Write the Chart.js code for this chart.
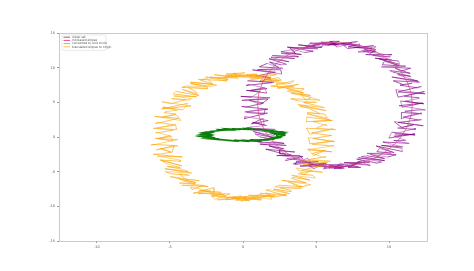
<!DOCTYPE html>
<html><head><meta charset="utf-8">
<script src="https://cdn.jsdelivr.net/npm/chart.js@4/dist/chart.umd.min.js"></script>
<style>html,body{margin:0;padding:0;background:#fff}#c{display:block}</style>
</head><body>
<canvas id="c" width="474" height="271"></canvas>
<script>
const seriesLabels = ["initial set", "increased ellipse", "converted to unit circle", "translated ellipse to origin"];
const xTicks = [-10, -5, 0, 5, 10];
const yTicks = [-15, -10, -5, 0, 5, 10, 15];

const initialSet = [
[12.30,4.90],[10.90,4.30],[10.79,5.19],[12.39,4.79],[11.08,5.18],[12.08,5.58],[12.05,5.66],[11.05,5.86],[12.42,6.55],[10.62,5.75],[10.47,6.83],[12.47,6.23],
[10.62,6.50],[12.22,7.30],[11.95,7.08],[10.75,7.48],[11.58,7.74],[10.98,7.54],[10.29,8.11],[12.09,7.91],[10.19,8.66],[11.99,8.06],[11.39,8.41],[10.59,9.01],
[11.48,8.75],[10.28,9.35],[10.05,9.58],[11.45,9.18],[10.42,9.90],[10.82,9.50],[11.48,9.92],[9.48,10.12],[11.14,10.22],[9.54,10.42],[9.68,10.91],[10.68,10.31],
[9.32,11.29],[10.72,10.49],[10.65,10.96],[9.05,11.36],[10.17,11.12],[9.17,11.72],[8.89,11.76],[10.09,11.56],[8.40,11.89],[10.20,11.89],[10.00,11.81],[8.20,12.41],
[9.10,12.61],[8.70,12.01],[8.29,12.69],[9.09,12.29],[7.88,12.27],[9.08,13.07],[8.97,12.72],[7.57,12.92],[8.95,13.16],[7.15,12.76],[6.82,13.39],[8.82,12.79],
[7.20,13.00],[8.00,13.40],[7.97,13.09],[6.77,13.49],[7.84,13.77],[6.44,12.97],[6.10,13.52],[7.70,13.32],[5.87,13.37],[7.47,13.57],[6.94,13.19],[5.94,13.79],
[6.60,13.80],[5.80,13.20],[5.36,13.69],[6.56,13.29],[5.43,13.27],[6.03,13.67],[6.40,13.32],[4.60,13.52],[6.16,13.77],[4.36,12.97],[4.63,13.59],[5.43,12.99],
[4.10,12.80],[5.50,13.60],[5.38,12.89],[3.78,13.29],[4.95,13.06],[3.75,12.86],[3.13,12.92],[5.13,12.72],[3.02,12.97],[4.82,12.37],[4.21,12.19],[3.21,12.79],
[3.60,12.01],[3.40,12.61],[2.60,12.31],[4.00,11.91],[2.60,12.09],[3.60,11.69],[3.81,11.56],[2.01,11.76],[3.53,11.32],[1.93,11.52],[1.95,11.46],[3.15,10.86],
[1.78,11.29],[2.98,10.49],[2.62,10.41],[1.82,10.81],[2.46,10.02],[1.66,10.62],[1.12,10.12],[2.72,9.92],[0.98,9.70],[2.58,9.70],[2.65,9.08],[0.65,9.68],
[2.22,9.35],[0.82,8.75],[0.91,8.91],[1.91,8.51],[1.11,7.96],[1.51,8.76],[2.11,7.91],[0.31,8.11],[2.02,7.84],[0.22,7.44],[0.45,7.58],[1.65,6.98],
[0.48,6.70],[1.48,7.10],[1.63,6.33],[0.23,6.73],[1.18,6.55],[0.58,5.75],[-0.15,5.86],[1.85,5.66],[-0.08,5.28],[1.72,5.48],[1.21,4.69],[0.41,5.29],
[1.40,4.90],[0.20,4.30],[-0.09,4.41],[1.71,4.01],[0.12,3.62],[1.52,4.02],[1.45,3.34],[0.25,3.54],[1.68,3.45],[0.08,2.65],[0.13,2.97],[1.73,2.37],
[0.58,1.90],[1.38,2.70],[1.45,1.72],[0.65,2.12],[1.62,1.66],[0.62,1.46],[0.21,1.29],[2.21,1.09],[0.41,1.14],[2.21,0.54],[2.11,0.19],[0.71,0.79],
[2.22,-0.15],[0.82,0.45],[1.15,0.02],[2.15,-0.38],[1.48,-0.30],[2.08,-0.70],[2.82,-0.92],[1.02,-0.72],[2.96,-1.22],[1.16,-1.02],[1.62,-1.11],[2.82,-1.71],
[1.78,-1.29],[2.98,-2.09],[3.55,-2.16],[1.55,-1.76],[2.93,-2.52],[2.53,-1.92],[2.51,-2.36],[3.31,-2.56],[2.30,-2.69],[3.90,-2.69],[4.10,-3.21],[2.50,-2.61],
[4.10,-2.81],[2.90,-3.41],[3.01,-3.09],[4.41,-3.49],[3.42,-3.87],[4.42,-3.07],[4.63,-3.72],[3.63,-3.52],[5.15,-3.56],[3.55,-3.96],[3.68,-3.59],[5.48,-4.19],
[3.90,-4.20],[5.70,-3.80],[5.63,-4.29],[4.43,-3.89],[5.66,-3.77],[4.86,-4.57],[4.50,-4.12],[6.50,-4.32],[5.53,-4.37],[5.93,-4.17],[6.76,-4.59],[5.16,-3.99],
[6.90,-4.00],[5.50,-4.60],[5.94,-4.09],[6.94,-4.49],[5.87,-4.47],[7.47,-4.07],[7.90,-4.32],[5.90,-4.12],[8.04,-3.77],[6.24,-4.57],[6.67,-3.79],[8.07,-4.39],
[7.20,-4.40],[8.00,-3.60],[8.72,-4.09],[6.92,-3.69],[8.35,-3.66],[7.75,-3.86],[7.87,-3.52],[8.67,-3.72],[7.78,-3.17],[9.18,-3.77],[9.49,-3.59],[7.89,-2.99],
[9.70,-3.41],[8.10,-2.81],[8.50,-2.71],[9.70,-3.11],[8.70,-2.49],[9.90,-2.89],[10.49,-2.56],[8.49,-2.36],[10.17,-2.32],[9.17,-2.12],[9.35,-1.66],[10.35,-2.26],
[9.12,-1.29],[10.92,-2.09],[10.88,-1.61],[9.48,-1.21],[10.94,-1.42],[9.74,-0.82],[9.58,-0.72],[11.38,-0.92],[10.32,-0.50],[10.92,-0.50],[11.15,-0.48],[10.35,0.12],
[11.78,0.45],[9.98,-0.15],[10.19,0.69],[11.79,0.29],[10.39,0.44],[11.79,1.24],[11.79,1.09],[10.59,1.29],[11.68,1.76],[10.88,1.36],[10.35,2.22],[12.35,1.62],
[10.62,2.10],[12.22,2.50],[11.97,2.47],[10.97,2.87],[12.22,3.45],[10.82,2.65],[10.85,3.54],[12.25,3.34],[11.08,3.72],[12.08,3.92],[12.49,3.91],[10.69,4.51],
[12.30,4.90]
];

const increasedEllipse = [
[11.60,4.70],[11.52,6.26],[11.28,7.78],[10.89,9.20],[10.36,10.49],[9.71,11.59],[8.95,12.49],[8.11,13.16],[7.22,13.56],[6.30,13.70],
[5.38,13.56],[4.49,13.16],[3.65,12.49],[2.89,11.59],[2.24,10.49],[1.71,9.20],[1.32,7.78],[1.08,6.26],[1.00,4.70],
[1.08,3.14],[1.32,1.62],[1.71,0.20],[2.24,-1.09],[2.89,-2.19],[3.65,-3.09],[4.49,-3.76],[5.38,-4.16],[6.30,-4.30],
[7.22,-4.16],[8.11,-3.76],[8.95,-3.09],[9.71,-2.19],[10.36,-1.09],[10.89,0.20],[11.28,1.62],[11.52,3.14],[11.60,4.70]
];

const translatedSet = [
[4.80,-0.20],[6.00,0.20],[6.09,0.19],[4.69,0.59],[6.18,1.18],[4.58,0.38],[4.35,1.26],[6.35,1.06],[5.02,1.25],[5.62,1.85],[5.77,1.63],[4.77,2.23],
[6.12,2.40],[4.32,2.20],[4.35,2.88],[5.95,2.48],[4.38,3.34],[5.78,2.74],[5.59,3.31],[4.39,3.51],[5.29,3.36],[4.49,4.16],[3.89,4.41],[5.69,3.81],
[3.78,4.65],[5.58,4.25],[4.95,4.58],[4.15,4.98],[5.02,5.00],[3.82,5.20],[3.28,5.52],[5.28,5.32],[3.94,6.12],[4.34,5.32],[4.68,5.71],[3.28,6.31],
[4.62,5.99],[3.02,6.59],[3.15,6.76],[4.15,6.36],[2.97,7.02],[3.97,6.62],[4.19,6.96],[2.39,7.16],[3.80,7.59],[2.40,6.99],[2.30,7.81],[3.50,7.21],
[1.90,7.31],[3.50,8.11],[3.29,7.69],[1.69,8.09],[2.58,8.17],[1.98,7.97],[1.67,8.32],[2.47,8.12],[1.25,8.16],[2.45,8.56],[2.62,8.19],[0.62,8.79],
[2.30,9.00],[0.50,8.20],[0.47,8.89],[1.87,8.49],[0.54,8.47],[1.34,9.07],[1.20,8.72],[0.20,8.92],[0.97,9.07],[-0.03,8.67],[-0.66,9.19],[1.14,8.59],
[-0.80,8.70],[0.80,9.10],[0.66,8.69],[-1.14,9.09],[0.13,9.27],[-1.07,8.47],[-1.20,8.92],[-0.20,8.72],[-1.34,8.47],[-0.54,9.07],[-0.37,8.39],[-1.97,8.99],
[-0.50,8.70],[-2.30,8.50],[-2.22,8.69],[-1.02,8.29],[-2.55,8.66],[-1.15,8.06],[-1.07,8.12],[-3.07,8.32],[-2.08,7.67],[-2.48,8.47],[-2.89,8.19],[-2.09,7.59],
[-3.60,7.91],[-1.80,7.51],[-2.20,7.31],[-3.60,7.71],[-2.40,7.19],[-3.80,7.39],[-4.19,7.16],[-2.39,6.96],[-3.77,7.22],[-3.17,6.42],[-3.15,6.26],[-4.15,6.86],
[-3.02,5.99],[-4.62,6.59],[-4.78,6.21],[-3.18,5.81],[-4.74,5.92],[-3.54,5.52],[-3.68,5.32],[-4.88,5.52],[-3.92,5.40],[-4.92,4.80],[-5.55,5.08],[-3.55,4.48],
[-5.58,4.05],[-3.78,4.85],[-4.09,3.91],[-5.49,4.31],[-4.49,3.86],[-5.29,3.66],[-5.39,3.51],[-4.59,3.31],[-5.58,2.84],[-4.58,3.24],[-4.25,2.38],[-6.05,2.98],
[-4.42,2.70],[-6.02,1.90],[-5.87,2.13],[-4.67,1.73],[-6.02,1.25],[-4.62,1.85],[-4.55,1.06],[-6.15,1.26],[-4.78,0.98],[-5.98,0.58],[-5.89,0.69],[-4.89,0.09],
[-5.80,-0.20],[-5.00,0.20],[-4.79,-0.59],[-5.99,-0.19],[-4.48,-0.38],[-6.28,-1.18],[-6.25,-1.06],[-4.45,-1.26],[-5.92,-1.85],[-4.72,-1.25],[-4.87,-2.23],[-5.67,-1.63],
[-4.92,-2.20],[-5.52,-2.40],[-6.15,-2.48],[-4.15,-2.88],[-5.88,-2.74],[-4.28,-3.34],[-4.29,-3.51],[-5.69,-3.31],[-4.19,-4.16],[-5.59,-3.36],[-5.29,-3.81],[-4.29,-4.41],
[-5.18,-4.25],[-4.18,-4.65],[-3.75,-4.98],[-5.35,-4.58],[-3.52,-5.20],[-5.32,-5.00],[-4.88,-5.32],[-3.68,-5.52],[-4.34,-5.32],[-3.94,-6.12],[-2.98,-6.31],[-4.98,-5.71],
[-3.22,-6.59],[-4.42,-5.99],[-4.05,-6.36],[-3.25,-6.76],[-4.37,-6.62],[-2.57,-7.02],[-2.39,-7.16],[-4.19,-6.96],[-2.70,-6.99],[-3.50,-7.59],[-3.60,-7.21],[-2.20,-7.81],
[-3.40,-8.11],[-2.00,-7.31],[-1.99,-8.09],[-2.99,-7.69],[-1.48,-7.97],[-3.08,-8.17],[-2.87,-8.12],[-1.27,-8.32],[-2.15,-8.56],[-1.55,-8.16],[-1.02,-8.79],[-2.22,-8.19],
[-0.90,-8.20],[-1.90,-9.00],[-2.17,-8.49],[-0.17,-8.89],[-1.74,-9.07],[-0.14,-8.47],[-0.30,-8.92],[-1.10,-8.72],[0.23,-8.67],[-1.17,-9.07],[-0.94,-8.59],[0.46,-9.19],
[-0.50,-9.10],[0.50,-8.70],[1.24,-9.09],[-0.76,-8.69],[1.07,-8.47],[-0.13,-9.27],[0.10,-8.72],[1.30,-8.92],[0.04,-9.07],[1.84,-8.47],[1.97,-8.99],[0.37,-8.39],
[2.20,-8.50],[0.60,-8.70],[1.12,-8.29],[2.12,-8.69],[1.55,-8.06],[2.15,-8.66],[2.97,-8.32],[1.17,-8.12],[2.98,-8.47],[1.58,-7.67],[1.79,-7.59],[3.19,-8.19],
[2.10,-7.51],[3.30,-7.91],[3.30,-7.71],[2.50,-7.31],[4.00,-7.39],[2.20,-7.19],[2.49,-6.96],[4.09,-7.16],[3.07,-6.42],[3.87,-7.22],[4.65,-6.86],[2.65,-6.26],
[4.32,-6.59],[3.32,-5.99],[3.38,-5.81],[4.58,-6.21],[3.34,-5.52],[4.94,-5.92],[4.78,-5.52],[3.78,-5.32],[4.72,-4.80],[4.12,-5.40],[3.65,-4.48],[5.45,-5.08],
[3.98,-4.85],[5.38,-4.05],[5.49,-4.31],[4.09,-3.91],[5.79,-3.66],[3.99,-3.86],[3.99,-3.31],[5.99,-3.51],[4.48,-3.24],[5.68,-2.84],[5.55,-2.98],[4.75,-2.38],
[5.62,-1.90],[4.82,-2.70],[4.47,-1.73],[6.07,-2.13],[4.42,-1.85],[6.22,-1.25],[5.95,-1.26],[4.75,-1.06],[6.18,-0.58],[4.58,-0.98],[4.49,-0.09],[6.29,-0.69],
[4.80,-0.20]
];

const unitSet = [
[2.90,0.35],[2.36,0.40],[2.79,0.67],[1.95,0.70],[2.09,0.85],[1.32,1.01],[1.55,0.98],[0.79,1.13],[0.75,1.06],
[-0.25,1.20],[-0.25,1.09],[-1.19,1.18],[-0.95,1.01],[-1.82,0.95],[-1.69,0.91],[-2.60,0.67],[-2.29,0.62],[-2.81,0.37],
[-2.30,0.35],[-2.86,0.10],[-2.24,0.09],[-2.60,-0.16],[-1.64,-0.25],[-1.77,-0.29],[-1.05,-0.50],[-1.19,-0.47],[-0.35,-0.62],
[-0.20,-0.50],[0.80,-0.59],[0.64,-0.42],[1.60,-0.47],[1.52,-0.35],[2.19,-0.19],[1.90,-0.19],[2.69,0.04],[2.26,0.07],
[2.30,0.25],[2.76,0.50],[2.09,0.51],[2.55,0.76],[1.89,0.85],[2.02,0.89],[1.05,1.10],[0.99,1.07],[0.15,1.22],
[0.25,1.10],[-0.65,1.19],[-0.59,1.02],[-1.65,1.07],[-1.52,0.95],[-2.29,0.79],[-1.90,0.79],[-2.59,0.56],[-2.31,0.53],
[-2.90,0.25],[-2.26,0.20],[-2.64,-0.07],[-1.90,-0.10],[-2.34,-0.25],[-1.57,-0.41],[-1.55,-0.38],[-0.59,-0.53],[-0.55,-0.46],
[0.20,-0.60],[0.10,-0.49],[1.14,-0.58],[1.00,-0.41],[1.82,-0.35],[1.79,-0.31],[2.60,-0.07],[2.19,-0.02],[2.86,0.23],
[2.90,0.35]
];

const toXY = arr => arr.map(p => ({x: p[0], y: p[1]}));
const legendColors = ['#9a3aa6', '#e0407a', '#ffa000', '#f6c040'];

const frameAndLegend = {
  id: 'frameAndLegend',
  afterDatasetsDraw(chart) {
    const {ctx, chartArea: a} = chart;
    ctx.save();
    ctx.strokeStyle = '#bdbdbd';
    ctx.lineWidth = 0.8;
    ctx.strokeRect(a.left + 0.5, a.top + 0.5, a.right - a.left, a.bottom - a.top);
    const bx = a.left + 3, by = a.top + 2, bw = 44, rowH = 3.2, bh = seriesLabels.length * rowH + 2.5;
    ctx.fillStyle = 'rgba(255,255,255,0.85)';
    ctx.strokeStyle = '#dcdcdc';
    ctx.lineWidth = 0.6;
    ctx.beginPath();
    ctx.roundRect(bx, by, bw, bh, 1);
    ctx.fill(); ctx.stroke();
    ctx.font = '3px "DejaVu Sans"';
    ctx.textBaseline = 'middle';
    seriesLabels.forEach((lab, i) => {
      const yy = by + 2.2 + i * rowH;
      ctx.strokeStyle = legendColors[i];
      ctx.lineWidth = 0.9;
      ctx.beginPath(); ctx.moveTo(bx + 1.5, yy); ctx.lineTo(bx + 8, yy); ctx.stroke();
      ctx.fillStyle = '#555';
      ctx.fillText(lab, bx + 10, yy);
    });
    ctx.restore();
  }
};

new Chart(document.getElementById('c'), {
  type: 'scatter',
  data: {
    datasets: [
      {label: seriesLabels[0], data: toXY(initialSet), borderColor: '#800080', borderWidth: 0.65, showLine: true, pointRadius: 0, order: 3,
       segment: {borderColor: c => (c.p0DataIndex % 3 === 1 ? '#b45ac4' : '#800080')}},
      {label: seriesLabels[1], data: toXY(increasedEllipse), borderColor: '#e0407a', borderWidth: 0.7, showLine: true, pointRadius: 0, order: 1},
      {label: seriesLabels[3], data: toXY(translatedSet), borderColor: '#ffa000', borderWidth: 0.65, showLine: true, pointRadius: 0, order: 2,
       segment: {borderColor: c => (c.p0DataIndex % 3 === 1 ? '#f6c040' : '#ffa000')}},
      {label: seriesLabels[2], data: toXY(unitSet), borderColor: '#0a7d0a', borderWidth: 1.5, showLine: true, pointRadius: 0, order: 0}
    ]
  },
  options: {
    responsive: false,
    animation: false,
    layout: {padding: {left: 0, right: 47, top: 33, bottom: 0}},
    plugins: {legend: {display: false}, tooltip: {enabled: false}},
    scales: {
      x: {
        type: 'linear', min: -12.6, max: 12.6,
        afterBuildTicks: s => { s.ticks = xTicks.map(v => ({value: v})); },
        afterFit: s => { s.height = 30; },
        grid: {display: true, drawOnChartArea: false, tickLength: 2, color: '#999'},
        border: {display: false},
        ticks: {font: {size: 3.5, family: 'DejaVu Sans'}, color: '#555', padding: 2, maxRotation: 0}
      },
      y: {
        type: 'linear', min: -15, max: 15,
        afterBuildTicks: s => { s.ticks = yTicks.map(v => ({value: v})); },
        afterFit: s => { s.width = 59; },
        grid: {display: true, drawOnChartArea: false, tickLength: 2, color: '#999'},
        border: {display: false},
        ticks: {font: {size: 3.5, family: 'DejaVu Sans'}, color: '#555', padding: 2}
      }
    }
  },
  plugins: [frameAndLegend]
});
</script>
</body></html>
